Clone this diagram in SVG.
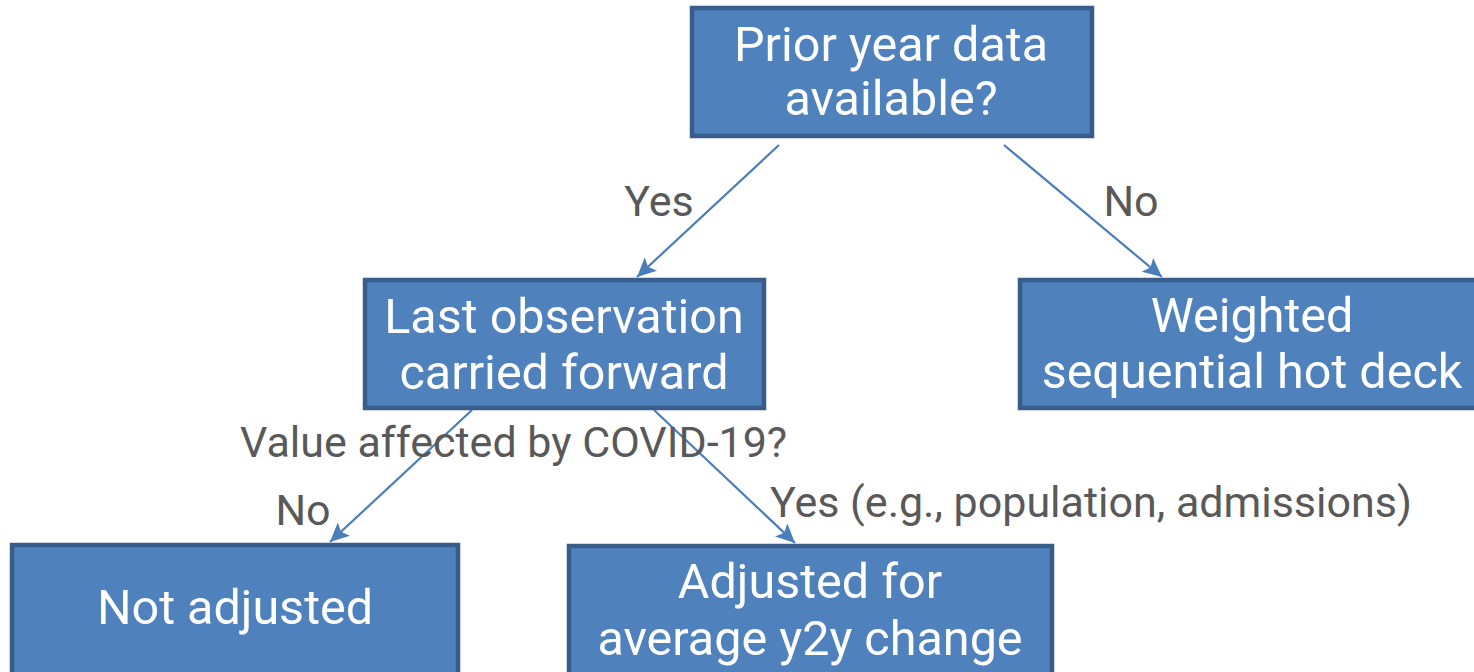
<svg xmlns="http://www.w3.org/2000/svg" width="1474" height="672" viewBox="0 0 1474 672">
<style>
.box{fill:#4F81BD;stroke:#385D8A;stroke-width:4.5;}
.t{font-family:Roboto,"Liberation Sans",sans-serif;font-size:48.5px;fill:#FFFFFF;text-anchor:middle;}
.lbl{font-family:Roboto,"Liberation Sans",sans-serif;font-size:43px;fill:#595959;}
.edge{stroke:#4A7EBB;stroke-width:2.2;fill:none;marker-end:url(#ah);}
</style>
<defs>
<marker id="ah" markerUnits="userSpaceOnUse" markerWidth="22" markerHeight="18" refX="19" refY="9" orient="auto">
<path d="M0,0 L19,9 L0,18 L4,9 Z" fill="#4A7EBB"/>
</marker>
</defs>
<rect width="1474" height="672" fill="#FFFFFF"/>
<g id="connectors">
<line class="edge" x1="779" y1="145" x2="637" y2="277"/>
<line class="edge" x1="1004" y1="145" x2="1162" y2="277"/>
<line class="edge" x1="472" y1="410" x2="330" y2="542"/>
<line class="edge" x1="654" y1="410" x2="795" y2="543"/>
</g>
<g id="labels">
<text class="lbl" x="659" y="216" text-anchor="middle">Yes</text>
<text class="lbl" x="1131" y="216" text-anchor="middle">No</text>
<text class="lbl" x="240" y="457">Value affected by COVID-19?</text>
<text class="lbl" x="303" y="525" text-anchor="middle">No</text>
<text class="lbl" x="770" y="517">Yes (e.g., population, admissions)</text>
</g>
<g id="node-prior">
<rect class="box" x="692" y="8" width="400" height="128"/>
<text class="t" x="891" y="61">Prior year data</text>
<text class="t" x="891" y="115">available?</text>
</g>
<g id="node-locf">
<rect class="box" x="365" y="280" width="399" height="128"/>
<text class="t" x="564" y="333">Last observation</text>
<text class="t" x="564" y="389">carried forward</text>
</g>
<g id="node-hotdeck">
<rect class="box" x="1020" y="280" width="470" height="128"/>
<text class="t" x="1252" y="332">Weighted</text>
<text class="t" x="1252" y="388">sequential hot deck</text>
</g>
<g id="node-notadj">
<rect class="box" x="12" y="545" width="446" height="140"/>
<text class="t" x="235" y="624">Not adjusted</text>
</g>
<g id="node-adj">
<rect class="box" x="569" y="546" width="483" height="140"/>
<text class="t" x="810" y="598">Adjusted for</text>
<text class="t" x="810" y="655">average y2y change</text>
</g>
</svg>
